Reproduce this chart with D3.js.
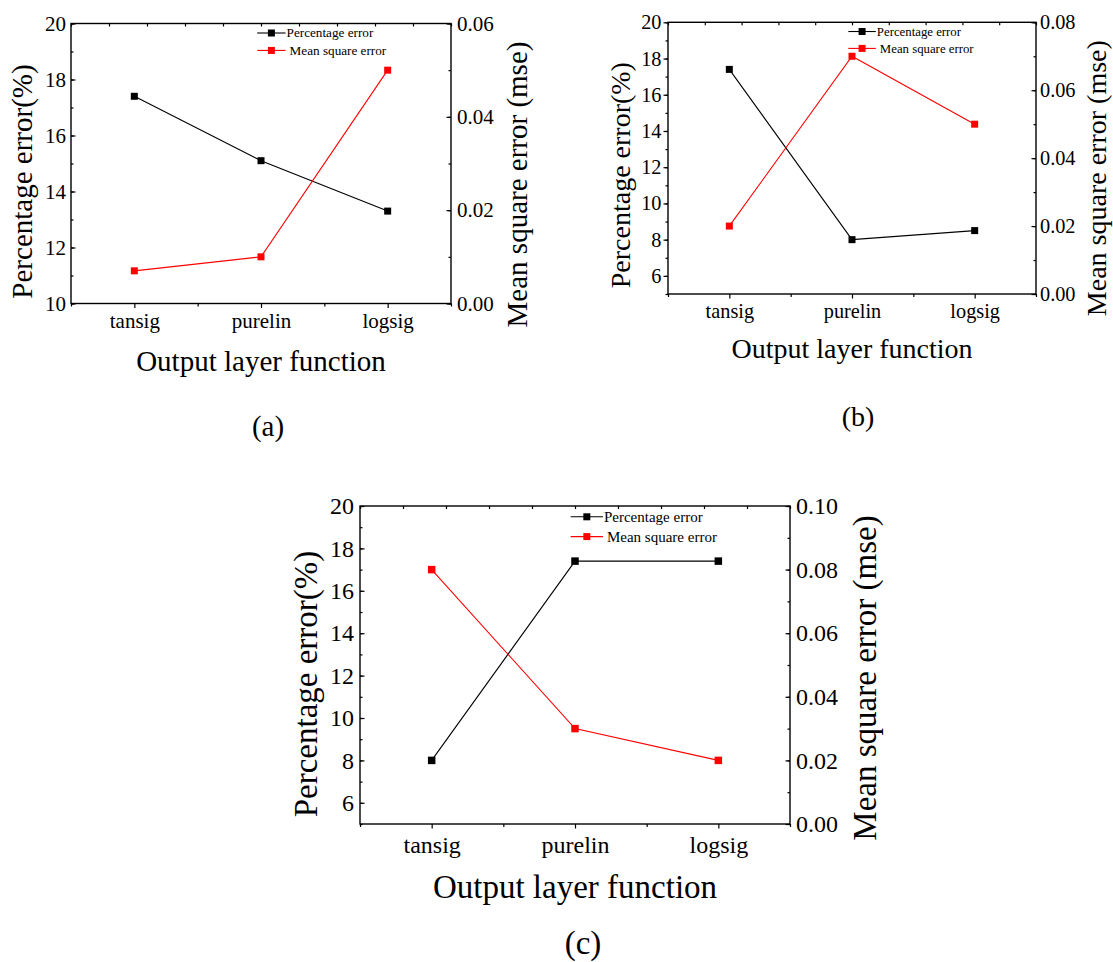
<!DOCTYPE html>
<html>
<head>
<meta charset="utf-8">
<script src="https://cdn.jsdelivr.net/npm/d3@7"></script>
<style>
  body { margin: 0; background: #fff; font-family: "Times New Roman", "Liberation Serif", serif; }
  text { font-family: "Times New Roman", "Liberation Serif", serif !important; }
</style>
</head>
<body>
<div id="chart"></div>
<script>
// data
var categories = ["tansig", "purelin", "logsig"];
var seriesNames = ["Percentage error", "Mean square error"];

var pctA = [17.4, 15.1, 13.3];
var mseA = [0.007, 0.010, 0.050];
var pctB = [17.4, 8.0, 8.5];
var mseB = [0.020, 0.070, 0.050];
var pctC = [8.0, 17.4, 17.4];
var mseC = [0.080, 0.030, 0.020];

var pctTicksA = [10, 12, 14, 16, 18, 20];
var pctTicksBC = [6, 8, 10, 12, 14, 16, 18, 20];
var mseTicksA = [0, 0.02, 0.04, 0.06];
var mseTicksB = [0, 0.02, 0.04, 0.06, 0.08];
var mseTicksC = [0, 0.02, 0.04, 0.06, 0.08, 0.10];

var svg = d3.select('#chart').append('svg')
  .attr('width', 1113)
  .attr('height', 962);

var noDomain = function(g) {
  g.attr('font-family', null);
  g.select('.domain').remove();
};

var drawPanel = function(p) {
  var g = svg.append('g');
  var x = d3.scalePoint().domain(categories).range([p.x0, p.x1]).padding(0.5);
  var yL = d3.scaleLinear().domain(p.pctDomain).range([p.y1, p.y0]);
  var yR = d3.scaleLinear().domain(p.mseDomain).range([p.y1, p.y0]);
  var xTop = d3.scaleLinear().domain([0, 10]).range([p.x0, p.x1]);
  var xMinor = d3.scaleLinear().domain([0, categories.length]).range([p.x0, p.x1]);

  // bottom axis: minor ticks between categories, major at categories
  g.append('g').attr('transform', 'translate(0,' + p.y1 + ')')
    .call(d3.axisBottom(xMinor).tickValues(d3.range(0, categories.length + 1)).tickSize(3).tickFormat(''))
    .call(noDomain);
  var xPad = p.xLabelOff - 0.71 * p.tickFs - 4.5;
  g.append('g').attr('transform', 'translate(0,' + p.y1 + ')')
    .call(d3.axisBottom(x).tickSize(4.5).tickPadding(xPad))
    .call(noDomain)
    .selectAll('text').attr('font-size', p.tickFs);

  // top axis (mirror ticks only)
  g.append('g').attr('transform', 'translate(0,' + p.y0 + ')')
    .call(d3.axisTop(xTop).ticks(10).tickSize(-3).tickFormat(''))
    .call(noDomain);

  // left axis
  var ls = p.leftIn ? -1 : 1;
  g.append('g').attr('transform', 'translate(' + p.x0 + ',0)')
    .call(d3.axisLeft(yL).tickValues(d3.range(p.pctDomain[0], p.pctDomain[1] + 1, 1)).tickSize(ls * 2.5).tickFormat(''))
    .call(noDomain);
  g.append('g').attr('transform', 'translate(' + p.x0 + ',0)')
    .call(d3.axisLeft(yL).tickValues(p.pctTicks).tickSize(ls * 4.5).tickPadding(p.leftPad).tickFormat(d3.format('d')))
    .call(noDomain)
    .selectAll('text').attr('font-size', p.tickFs);

  // right axis
  var minorR = d3.range(0, Math.round(p.mseDomain[1] * 100) + 1).map(function(i) { return i / 100; });
  g.append('g').attr('transform', 'translate(' + p.x1 + ',0)')
    .call(d3.axisRight(yR).tickValues(minorR).tickSize(-2.5).tickFormat(''))
    .call(noDomain);
  g.append('g').attr('transform', 'translate(' + p.x1 + ',0)')
    .call(d3.axisRight(yR).tickValues(p.mseTicks).tickSize(-4.5).tickPadding(p.rightPad).tickFormat(d3.format('.2f')))
    .call(noDomain)
    .selectAll('text').attr('font-size', p.tickFs);

  g.selectAll('.tick line').attr('stroke', '#000').attr('stroke-width', 1.2);

  // frame
  g.append('rect')
    .attr('x', p.x0).attr('y', p.y0)
    .attr('width', p.x1 - p.x0).attr('height', p.y1 - p.y0)
    .attr('fill', 'none').attr('stroke', '#000').attr('stroke-width', 1.4);

  // series
  var series = [
    { name: seriesNames[0], color: '#000', y: yL, values: p.pct },
    { name: seriesNames[1], color: '#ff0000', y: yR, values: p.mse }
  ];
  series.forEach(function(s) {
    var pts = categories.map(function(c, i) { return { c: c, v: s.values[i] }; });
    var line = d3.line().x(function(d) { return x(d.c); }).y(function(d) { return s.y(d.v); });
    g.append('path').datum(pts)
      .attr('d', line)
      .attr('fill', 'none')
      .attr('stroke', s.color)
      .attr('stroke-width', 1.1);
    g.selectAll(null).data(pts).enter().append('rect')
      .attr('x', function(d) { return x(d.c) - p.marker / 2; })
      .attr('y', function(d) { return s.y(d.v) - p.marker / 2; })
      .attr('width', p.marker)
      .attr('height', p.marker)
      .attr('fill', s.color);
  });

  // legend
  var lx = p.x0 + 0.49 * (p.x1 - p.x0);
  var lineLen = 2.15 * p.legFs;
  series.forEach(function(s, i) {
    var ly = p.y0 + 0.72 * p.legFs + i * 1.32 * p.legFs;
    g.append('line')
      .attr('x1', lx).attr('x2', lx + lineLen)
      .attr('y1', ly).attr('y2', ly)
      .attr('stroke', s.color).attr('stroke-width', 1.1);
    g.append('rect')
      .attr('x', lx + lineLen / 2 - 3.5).attr('y', ly - 3.5)
      .attr('width', 7).attr('height', 7)
      .attr('fill', s.color);
    g.append('text')
      .attr('x', lx + lineLen + (i === 0 ? 1 : 4))
      .attr('y', ly)
      .attr('dy', '0.33em')
      .attr('font-size', p.legFs)
      .text(s.name);
  });

  // axis titles
  var midY = (p.y0 + p.y1) / 2;
  g.append('text')
    .attr('transform', 'translate(' + p.leftTitleX + ',' + (midY + p.leftTitleDy) + ') rotate(-90)')
    .attr('text-anchor', 'middle')
    .attr('dy', '0.32em')
    .attr('font-size', p.titleFs)
    .text('Percentage error(%)');
  g.append('text')
    .attr('transform', 'translate(' + p.rightTitleX + ',' + (midY + p.rightTitleDy) + ') rotate(-90)')
    .attr('text-anchor', 'middle')
    .attr('dy', '0.32em')
    .attr('font-size', p.titleFs)
    .text('Mean square error (mse)');
  g.append('text')
    .attr('x', (p.x0 + p.x1) / 2)
    .attr('y', p.y1 + p.titleOff)
    .attr('text-anchor', 'middle')
    .attr('dy', '0.3em')
    .attr('font-size', p.titleFs)
    .text('Output layer function');

  // panel letter
  g.append('text')
    .attr('x', p.letterX)
    .attr('y', p.letterY)
    .attr('text-anchor', 'middle')
    .attr('dy', '0.3em')
    .attr('font-size', p.titleFs)
    .text(p.letter);
};

drawPanel({
  x0: 71, x1: 451, y0: 23.5, y1: 303.5,
  pct: pctA, mse: mseA,
  pctDomain: [10, 20], pctTicks: pctTicksA,
  mseDomain: [0, 0.06], mseTicks: mseTicksA,
  leftIn: true, leftPad: 5, rightPad: 6,
  tickFs: 21, titleFs: 29, legFs: 13.2, marker: 7,
  xLabelOff: 24.5, titleOff: 58.5,
  leftTitleX: 23, leftTitleDy: 18, rightTitleX: 518, rightTitleDy: 21,
  letter: '(a)', letterX: 268, letterY: 427
});

drawPanel({
  x0: 668, x1: 1036, y0: 22.3, y1: 294,
  pct: pctB, mse: mseB,
  pctDomain: [5, 20], pctTicks: pctTicksBC,
  mseDomain: [0, 0.08], mseTicks: mseTicksB,
  leftIn: false, leftPad: 2, rightPad: 4,
  tickFs: 20.3, titleFs: 28, legFs: 12.8, marker: 7,
  xLabelOff: 24, titleOff: 56,
  leftTitleX: 621.5, leftTitleDy: 17, rightTitleX: 1097, rightTitleDy: 20,
  letter: '(b)', letterX: 858, letterY: 418
});

drawPanel({
  x0: 360, x1: 790, y0: 506, y1: 824,
  pct: pctC, mse: mseC,
  pctDomain: [5, 20], pctTicks: pctTicksBC,
  mseDomain: [0, 0.10], mseTicks: mseTicksC,
  leftIn: true, leftPad: 6, rightPad: 6,
  tickFs: 24, titleFs: 33, legFs: 15, marker: 7.5,
  xLabelOff: 28.7, titleOff: 64,
  leftTitleX: 306, leftTitleDy: 19, rightTitleX: 865, rightTitleDy: 13,
  letter: '(c)', letterX: 583, letterY: 944
});
</script>
</body>
</html>
